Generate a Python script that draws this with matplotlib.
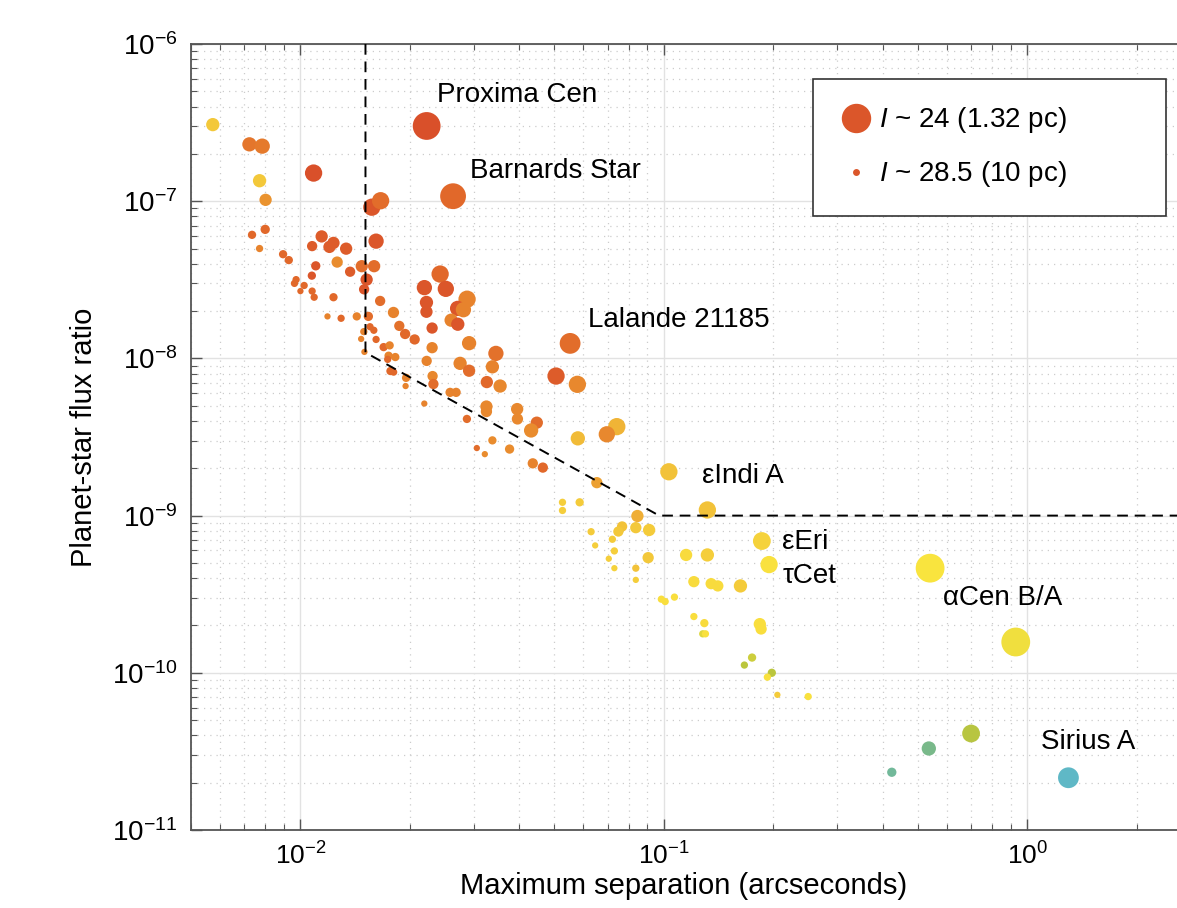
import numpy as np
import matplotlib
matplotlib.use('Agg')
import matplotlib.pyplot as plt
from matplotlib.colors import LinearSegmentedColormap, Normalize
from matplotlib.lines import Line2D

plt.rcParams['font.family'] = ['Liberation Sans', 'DejaVu Sans']
plt.rcParams['mathtext.fontset'] = 'custom'
plt.rcParams['mathtext.rm'] = 'Liberation Sans'
plt.rcParams['mathtext.it'] = 'Liberation Sans:italic'
plt.rcParams['mathtext.bf'] = 'Liberation Sans:bold'

# maximum separation (arcsec)
sep = [0.00574, 0.00724, 0.00785, 0.00772, 0.00802, 0.01087, 0.0080, 0.00736, 0.00772, 0.00896,
       0.00929, 0.00973, 0.00963, 0.0100, 0.01024, 0.01077, 0.01091, 0.01075, 0.01102, 0.01077,
       0.01144, 0.01202, 0.01233, 0.01336, 0.01262, 0.0137, 0.01233, 0.01187, 0.01294, 0.01572,
       0.01662, 0.01615, 0.01475, 0.01595, 0.01521, 0.01497, 0.01429, 0.01538, 0.01657, 0.01803,
       0.01871, 0.01941, 0.02062, 0.01554, 0.01592, 0.01494, 0.01469, 0.01615, 0.0150, 0.01694,
       0.0176, 0.01748, 0.01824, 0.01738, 0.01769, 0.01805, 0.01953, 0.01947, 0.02192, 0.02225,
       0.0263, 0.02423, 0.02193, 0.02512, 0.02222, 0.02222, 0.02303, 0.02874, 0.02707, 0.02808,
       0.02598, 0.0271, 0.02911, 0.02303, 0.02225, 0.0275, 0.02911, 0.0231, 0.02322, 0.02581,
       0.02681, 0.02871, 0.0345, 0.03374, 0.03257, 0.03543, 0.03249, 0.03249, 0.03947, 0.03954,
       0.0447, 0.04312, 0.03374, 0.03762, 0.03216, 0.03057, 0.04358, 0.04644, 0.0552, 0.0505,
       0.0578, 0.0742, 0.06965, 0.05797, 0.1032, 0.1317, 0.0654, 0.0526, 0.0526, 0.05864,
       0.08455, 0.09107, 0.0837, 0.07674, 0.07495, 0.06305, 0.07215, 0.0647, 0.07307, 0.07053,
       0.07307, 0.0837, 0.0837, 0.0905, 0.1151, 0.1317, 0.186, 0.1947, 0.1209, 0.1349,
       0.1407, 0.1624, 0.0984, 0.1008, 0.1069, 0.1209, 0.1292, 0.1279, 0.1301, 0.1836,
       0.1851, 0.1748, 0.1665, 0.1981, 0.1926, 0.2052, 0.2494, 0.540, 0.929, 0.70,
       0.5356, 0.4236, 1.297]

# planet-star flux ratio
flux = [3.07e-7, 2.30e-7, 2.24e-7, 1.35e-7, 1.02e-7, 1.51e-7, 6.62e-8, 6.11e-8, 5.0e-8, 4.6e-8,
        4.22e-8, 3.17e-8, 3.0e-8, 2.68e-8, 2.91e-8, 2.68e-8, 2.45e-8, 3.36e-8, 3.88e-8, 5.18e-8,
        5.97e-8, 5.12e-8, 5.43e-8, 4.99e-8, 4.10e-8, 3.56e-8, 2.45e-8, 1.85e-8, 1.80e-8, 9.16e-8,
        1.007e-7, 5.57e-8, 3.86e-8, 3.86e-8, 3.17e-8, 2.75e-8, 1.85e-8, 1.85e-8, 2.32e-8, 1.96e-8,
        1.61e-8, 1.43e-8, 1.32e-8, 1.59e-8, 1.51e-8, 1.48e-8, 1.33e-8, 1.32e-8, 1.10e-8, 1.18e-8,
        1.21e-8, 1.04e-8, 1.02e-8, 9.86e-9, 8.31e-9, 8.18e-9, 7.52e-9, 6.67e-9, 5.16e-9, 3.01e-7,
        1.076e-7, 3.44e-8, 2.82e-8, 2.77e-8, 2.27e-8, 1.98e-8, 1.56e-8, 2.38e-8, 2.08e-8, 2.04e-8,
        1.75e-8, 1.65e-8, 1.25e-8, 1.17e-8, 9.64e-9, 9.30e-9, 8.35e-9, 7.72e-9, 6.87e-9, 6.08e-9,
        6.08e-9, 4.12e-9, 1.076e-8, 8.84e-9, 7.07e-9, 6.67e-9, 4.94e-9, 4.59e-9, 4.76e-9, 4.12e-9,
        3.90e-9, 3.48e-9, 3.01e-9, 2.65e-9, 2.46e-9, 2.69e-9, 2.15e-9, 2.02e-9, 1.246e-8, 7.72e-9,
        6.84e-9, 3.68e-9, 3.29e-9, 3.10e-9, 1.90e-9, 1.086e-9, 1.62e-9, 1.215e-9, 1.078e-9, 1.215e-9,
        9.94e-10, 8.10e-10, 8.38e-10, 8.53e-10, 7.92e-10, 7.90e-10, 7.07e-10, 6.46e-10, 5.96e-10, 5.32e-10,
        4.63e-10, 4.63e-10, 3.90e-10, 5.40e-10, 5.62e-10, 5.62e-10, 6.89e-10, 4.88e-10, 3.80e-10, 3.69e-10,
        3.57e-10, 3.57e-10, 2.94e-10, 2.84e-10, 3.03e-10, 2.28e-10, 2.07e-10, 1.77e-10, 1.77e-10, 2.04e-10,
        1.90e-10, 1.25e-10, 1.12e-10, 1.00e-10, 9.38e-11, 7.24e-11, 7.06e-11, 4.63e-10, 1.57e-10, 4.11e-11,
        3.30e-11, 2.33e-11, 2.15e-11]

# I-band magnitude of the planet (sets marker size)
imag = [27.1, 26.9, 26.7, 27.1, 27.3, 26.3, 27.9, 28.1, 28.3, 28.1,
        28.1, 28.3, 28.3, 28.5, 28.3, 28.3, 28.3, 28.1, 27.9, 27.7,
        27.3, 27.3, 27.3, 27.3, 27.5, 27.7, 28.1, 28.5, 28.3, 26.3,
        26.3, 26.7, 27.3, 27.3, 27.3, 27.7, 28.1, 27.9, 27.7, 27.5,
        27.7, 27.7, 27.7, 28.3, 28.3, 28.3, 28.5, 28.3, 28.5, 28.1,
        28.1, 28.1, 28.1, 28.3, 28.1, 28.3, 28.1, 28.5, 28.5, 24.2,
        24.6, 26.3, 26.7, 26.5, 27.1, 27.3, 27.5, 26.3, 26.7, 26.7,
        27.1, 27.1, 26.9, 27.5, 27.7, 27.1, 27.3, 27.7, 27.7, 27.9,
        27.9, 28.1, 26.7, 27.1, 27.3, 27.1, 27.3, 27.5, 27.3, 27.5,
        27.3, 26.9, 28.1, 27.9, 28.5, 28.5, 27.7, 27.7, 25.6, 26.3,
        26.3, 26.3, 26.5, 26.9, 26.3, 26.3, 27.5, 28.3, 28.3, 28.1,
        27.3, 27.3, 27.5, 27.7, 27.7, 28.3, 28.3, 28.5, 28.3, 28.5,
        28.5, 28.3, 28.5, 27.5, 27.3, 27.1, 26.2, 26.3, 27.5, 27.5,
        27.5, 27.1, 28.3, 28.3, 28.3, 28.3, 28.1, 28.3, 28.3, 27.3,
        27.5, 28.1, 28.3, 28.1, 28.3, 28.5, 28.3, 24.0, 24.0, 26.2,
        26.9, 27.9, 25.6]

# host star effective temperature (K), sets colour
teff = [4600, 3450, 3500, 4600, 3800, 3100, 3300, 3300, 3600, 3300,
        3300, 3300, 3300, 3300, 3300, 3300, 3300, 3150, 3150, 3200,
        3200, 3200, 3200, 3200, 3700, 3200, 3300, 3600, 3300, 3150,
        3350, 3150, 3350, 3350, 3150, 3150, 3600, 3350, 3350, 3600,
        3400, 3300, 3300, 3300, 3300, 3600, 3600, 3300, 3600, 3300,
        3600, 3600, 3600, 3300, 3300, 3300, 3600, 3600, 3600, 3100,
        3300, 3300, 3150, 3150, 3150, 3150, 3150, 3600, 3150, 3600,
        3600, 3150, 3600, 3600, 3600, 3600, 3350, 3650, 3350, 3600,
        3600, 3350, 3400, 3600, 3300, 3650, 3650, 3650, 3650, 3650,
        3350, 3700, 3700, 3700, 3700, 3350, 3600, 3300, 3350, 3200,
        3650, 4300, 3650, 4400, 4500, 4500, 4000, 4800, 4800, 4700,
        4200, 4700, 4600, 4500, 4600, 4700, 4700, 4800, 4800, 4800,
        4900, 4500, 4800, 4600, 5200, 4800, 4900, 5400, 5200, 5200,
        5200, 4700, 5300, 5300, 5300, 5300, 5200, 5800, 5400, 5300,
        5300, 6000, 6200, 6200, 5400, 4700, 5400, 5500, 5600, 6250,
        7200, 7800, 9500]

names = ['Proxima Cen', 'Barnards Star', 'Lalande 21185', 'εIndi A', 'εEri', 'τCet', 'αCen B/A', 'Sirius A']
name_x = [0.0238, 0.0293, 0.0619, 0.1274, 0.2113, 0.2127, 0.586, 1.091]
name_y = [4.72e-7, 1.55e-7, 1.75e-8, 1.79e-9, 6.79e-10, 4.13e-10, 3.0e-10, 3.64e-11]

# inner working angle / contrast limit
iwa_sep = [0.0151, 0.0151, 0.097, 3.0]
iwa_flux = [1e-6, 1.09e-8, 1e-9, 1e-9]

cmap = LinearSegmentedColormap.from_list('teff', [
    (0.0, '#d9502a'), (0.03125, '#e1682a'), (0.09375, '#e98c2e'), (0.234, '#f3c83a'),
    (0.375, '#fae43e'), (0.484, '#bcc63c'), (0.641, '#79b98a'), (1.0, '#5fb8c6')])
norm = Normalize(3100, 9500)


def mag_to_px(i):
    # marker diameter in pixels: I~24 -> ~29 px, I~28.5 -> ~6 px
    return 28.8 - (np.asarray(i) - 24) * 5.0


fig = plt.figure(figsize=(11.77, 9.08), dpi=100)
ax = fig.add_axes([191 / 1177, 78 / 908, 986 / 1177, 786 / 908])
ax.set_xscale('log')
ax.set_yscale('log')
ax.set_xlim(5.0e-3, 2.58)
ax.set_ylim(1e-11, 1e-6)

d = mag_to_px(imag) * 0.72
ax.scatter(sep, flux, s=d ** 2, c=teff, cmap=cmap, norm=norm, edgecolors='none', zorder=2)
ax.plot(iwa_sep, iwa_flux, color='k', ls=(0, (5.5, 3.5)), lw=1.4, zorder=3)

for n, x, y in zip(names, name_x, name_y):
    ax.text(x, y, n, fontsize=20, ha='left', va='center', zorder=4)

ax.grid(which='major', color='#e2e2e2', lw=1.0, ls='-')
ax.grid(which='minor', color='#cccccc', lw=0.9, ls=(0, (1, 4)))
ax.set_axisbelow(True)

ax.tick_params(which='both', direction='in', top=True, right=False, colors='#555555')
ax.tick_params(which='major', length=8, width=1.0)
ax.tick_params(which='minor', length=4, width=0.8)
ax.tick_params(axis='y', labelsize=20, labelcolor='k', pad=10)
ax.tick_params(axis='x', labelsize=19, labelcolor='k', pad=9)
for s in ['left', 'bottom', 'top']:
    ax.spines[s].set_color('#555555')
    ax.spines[s].set_linewidth(1.3)
ax.spines['right'].set_visible(False)

ax.set_xlabel('Maximum separation (arcseconds)', fontsize=21, labelpad=2)
ax.set_ylabel('Planet-star flux ratio', fontsize=21, labelpad=10)

leg_col = cmap(norm(3150))
handles = [Line2D([], [], marker='o', ls='none', markersize=28 * 0.72, color=leg_col),
           Line2D([], [], marker='o', ls='none', markersize=5.5 * 0.72, color=leg_col)]
labels = [r'$\mathit{I}$ ~ 24 (1.32 pc)', r'$\mathit{I}$ ~ 28.5 (10 pc)']
leg = ax.legend(handles, labels, loc='upper left',
                bbox_to_anchor=(813 / 1177, 1 - 212 / 908, 353 / 1177, 133 / 908),
                bbox_transform=fig.transFigure, mode='expand', borderaxespad=0,
                fontsize=20, fancybox=False, framealpha=1, edgecolor='#333333',
                borderpad=0.95, labelspacing=0.86, handlelength=1.22, handletextpad=0.2)
leg.get_frame().set_linewidth(1.2)

fig.savefig('out.png', dpi=100, facecolor='white')
